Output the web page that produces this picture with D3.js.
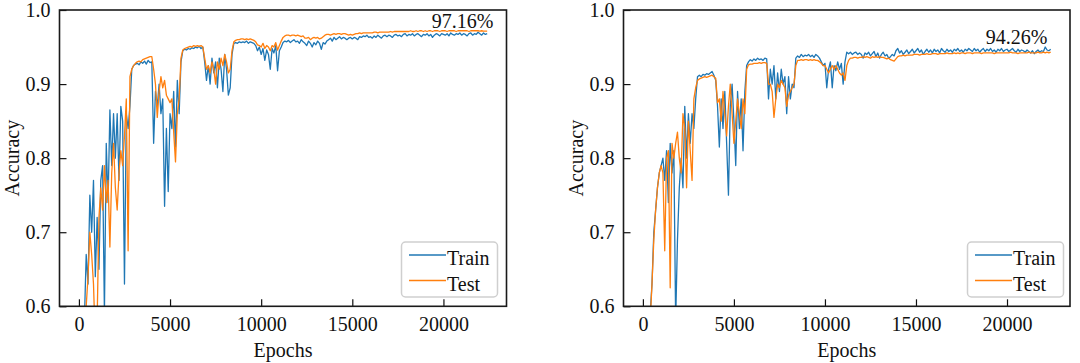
<!DOCTYPE html>
<html>
<head>
<meta charset="utf-8">
<script src="https://cdn.jsdelivr.net/npm/d3@7/dist/d3.min.js"></script>
<style>
  html, body { margin: 0; padding: 0; background: #fff; }
  svg { display: block; }
  svg text { font-family: "Liberation Serif", "Tinos", "Times New Roman", "Nimbus Roman", "DejaVu Serif", serif !important; fill: #111; }
</style>
</head>
<body>
<svg id="chart" width="1080" height="363"></svg>
<script>
// ---------------- DATA ----------------
const epochStep = 100; // one sample every 100 epochs, starting at epoch 0
const xTicks = [0, 5000, 10000, 15000, 20000];
const yTicks = [0.6, 0.7, 0.8, 0.9, 1.0];
const seriesNames = ["Train", "Test"];
const finalLabels = ["97.16%", "94.26%"];

const trainA = [
  0.30, 0.42, 0.52, 0.58, 0.67, 0.63, 0.75, 0.70, 0.77, 0.64,
  0.72, 0.65, 0.77, 0.79, 0.59, 0.82, 0.74, 0.865, 0.79, 0.86,
  0.80, 0.86, 0.77, 0.87, 0.85, 0.63, 0.86, 0.84, 0.87, 0.92,
  0.925, 0.927, 0.928, 0.926, 0.93, 0.928, 0.931, 0.927, 0.932, 0.929,
  0.93, 0.82, 0.89, 0.87, 0.90, 0.86, 0.88, 0.735, 0.84, 0.755,
  0.86, 0.84, 0.89, 0.815, 0.905, 0.86, 0.93, 0.945, 0.947, 0.946,
  0.948, 0.947, 0.949, 0.948, 0.95, 0.949, 0.951, 0.948, 0.95, 0.93,
  0.905, 0.925, 0.90, 0.935, 0.915, 0.93, 0.895, 0.935, 0.92, 0.89,
  0.94, 0.92, 0.885, 0.895, 0.94, 0.955, 0.956, 0.955, 0.957, 0.956,
  0.957, 0.956, 0.958, 0.955, 0.957, 0.956, 0.955, 0.952, 0.945, 0.95,
  0.94, 0.948, 0.932, 0.946, 0.94, 0.92, 0.948, 0.942, 0.952, 0.918,
  0.945, 0.95, 0.956, 0.958, 0.957, 0.959, 0.956, 0.958, 0.96, 0.957,
  0.958, 0.955, 0.96, 0.957, 0.955, 0.952, 0.958, 0.955, 0.95, 0.956,
  0.953, 0.958, 0.955, 0.947, 0.956, 0.954, 0.958, 0.96, 0.962, 0.958,
  0.963, 0.96, 0.962, 0.964, 0.961, 0.963, 0.962, 0.96, 0.962, 0.963,
  0.961, 0.963, 0.962, 0.96, 0.964, 0.963, 0.965, 0.964, 0.966, 0.963,
  0.964, 0.962, 0.965, 0.963, 0.966, 0.964, 0.962, 0.965, 0.966, 0.964,
  0.966, 0.965, 0.963, 0.966, 0.967, 0.965, 0.966, 0.964, 0.967, 0.968,
  0.965, 0.967, 0.966, 0.968, 0.965, 0.967, 0.968, 0.966, 0.964, 0.967,
  0.966, 0.968, 0.965, 0.967, 0.963, 0.966, 0.968, 0.967, 0.965, 0.968,
  0.967, 0.966, 0.968, 0.965, 0.969, 0.967, 0.966, 0.968, 0.967, 0.969,
  0.966, 0.968, 0.967, 0.965, 0.968, 0.969, 0.966, 0.968, 0.967, 0.970,
  0.968, 0.966, 0.969, 0.967, 0.968
];
const testA = [
  0.20, 0.30, 0.42, 0.52, 0.60, 0.64, 0.70, 0.67, 0.63, 0.55,
  0.58, 0.72, 0.76, 0.73, 0.79, 0.74, 0.77, 0.68, 0.78, 0.82,
  0.76, 0.73, 0.78, 0.81, 0.79, 0.83, 0.88, 0.675, 0.91, 0.92,
  0.925, 0.928, 0.93, 0.931, 0.93, 0.933, 0.934, 0.935, 0.936, 0.937,
  0.937, 0.92, 0.90, 0.855, 0.89, 0.91, 0.895, 0.905, 0.885, 0.88,
  0.875, 0.88, 0.835, 0.795, 0.86, 0.88, 0.935, 0.946, 0.948, 0.949,
  0.95, 0.951, 0.95, 0.952, 0.951, 0.952, 0.951, 0.952, 0.95, 0.935,
  0.92, 0.925, 0.915, 0.93, 0.92, 0.90, 0.93, 0.92, 0.935, 0.925,
  0.94, 0.93, 0.915, 0.92, 0.945, 0.957, 0.959, 0.96, 0.96, 0.961,
  0.961, 0.96, 0.961, 0.96, 0.961, 0.96, 0.959, 0.957, 0.953, 0.952,
  0.95, 0.955, 0.948, 0.952, 0.95, 0.945, 0.952, 0.95, 0.956, 0.946,
  0.952, 0.958, 0.963, 0.965, 0.966, 0.966, 0.965, 0.966, 0.966, 0.965,
  0.966, 0.965, 0.964, 0.965, 0.962, 0.962, 0.963, 0.960, 0.962, 0.963,
  0.962, 0.963, 0.961, 0.962, 0.964, 0.966, 0.967, 0.967, 0.966, 0.967,
  0.968, 0.967, 0.968, 0.968, 0.967, 0.968, 0.968, 0.967, 0.966, 0.967,
  0.966, 0.967, 0.968, 0.968, 0.969, 0.968, 0.969, 0.969, 0.969, 0.969,
  0.969, 0.969, 0.970, 0.970, 0.969, 0.970, 0.970, 0.970, 0.970, 0.970,
  0.970, 0.971, 0.970, 0.971, 0.971, 0.971, 0.971, 0.971, 0.971, 0.971,
  0.971, 0.971, 0.972, 0.971, 0.971, 0.972, 0.971, 0.972, 0.972, 0.971,
  0.972, 0.971, 0.972, 0.972, 0.971, 0.972, 0.972, 0.972, 0.971, 0.972,
  0.972, 0.972, 0.971, 0.972, 0.972, 0.972, 0.972, 0.971, 0.972, 0.972,
  0.972, 0.972, 0.972, 0.972, 0.971, 0.972, 0.972, 0.972, 0.972, 0.972,
  0.9716, 0.972, 0.9716, 0.9716, 0.9716
];
const trainB = [
  0.30, 0.40, 0.48, 0.55, 0.59, 0.63, 0.70, 0.73, 0.76, 0.78,
  0.79, 0.80, 0.77, 0.81, 0.74, 0.82, 0.78, 0.81, 0.58, 0.69,
  0.76, 0.80, 0.76, 0.87, 0.80, 0.86, 0.82, 0.86, 0.84, 0.88,
  0.91, 0.912, 0.91, 0.913, 0.912, 0.914, 0.913, 0.915, 0.917, 0.912,
  0.905, 0.87, 0.815, 0.88, 0.84, 0.89, 0.82, 0.75, 0.87, 0.90,
  0.85, 0.79, 0.89, 0.84, 0.88, 0.81, 0.89, 0.925, 0.93, 0.933,
  0.931, 0.934, 0.932, 0.935, 0.933, 0.934, 0.932, 0.935, 0.934, 0.88,
  0.92, 0.90, 0.925, 0.88, 0.915, 0.89, 0.92, 0.90, 0.91, 0.86,
  0.91, 0.88, 0.90, 0.895, 0.935, 0.938, 0.936, 0.94, 0.937, 0.939,
  0.938, 0.94, 0.937, 0.939, 0.936, 0.94, 0.938, 0.935, 0.93, 0.925,
  0.928, 0.895, 0.92, 0.93, 0.895, 0.925, 0.918, 0.93, 0.92, 0.928,
  0.90, 0.93, 0.943, 0.941, 0.943, 0.94, 0.942, 0.943, 0.94, 0.942,
  0.94, 0.935, 0.942, 0.94, 0.943, 0.938, 0.941, 0.944, 0.937, 0.942,
  0.935, 0.94, 0.943, 0.938, 0.94, 0.935, 0.937, 0.94, 0.938, 0.945,
  0.948, 0.942, 0.945, 0.94, 0.943, 0.946, 0.941, 0.944, 0.947, 0.942,
  0.945, 0.948, 0.943, 0.946, 0.94, 0.944, 0.947, 0.943, 0.946, 0.942,
  0.947, 0.944, 0.946, 0.942, 0.948, 0.945, 0.943, 0.947, 0.944, 0.946,
  0.943, 0.947, 0.945, 0.948, 0.944, 0.946, 0.943, 0.947, 0.945, 0.948,
  0.946, 0.944, 0.948, 0.945, 0.947, 0.943, 0.946, 0.948, 0.944, 0.947,
  0.945, 0.948, 0.944, 0.946, 0.943, 0.947, 0.945, 0.948, 0.944, 0.946,
  0.947, 0.944, 0.946, 0.948, 0.945, 0.943, 0.947, 0.944, 0.946, 0.945,
  0.943, 0.946, 0.944, 0.942, 0.945, 0.941, 0.944, 0.946, 0.943, 0.945,
  0.944, 0.950, 0.946, 0.945, 0.947
];
const testB = [
  0.25, 0.35, 0.45, 0.52, 0.58, 0.63, 0.69, 0.73, 0.76, 0.78,
  0.79, 0.78, 0.675, 0.80, 0.81, 0.625, 0.82, 0.80, 0.82, 0.835,
  0.80, 0.78, 0.86, 0.84, 0.76, 0.85, 0.81, 0.77, 0.88, 0.895,
  0.905, 0.907, 0.908, 0.909, 0.91, 0.909, 0.91, 0.911, 0.912, 0.91,
  0.908, 0.875, 0.88, 0.85, 0.89, 0.86, 0.83, 0.87, 0.90, 0.86,
  0.82, 0.85, 0.88, 0.86, 0.84, 0.88, 0.86, 0.92, 0.926, 0.927,
  0.927, 0.928, 0.928, 0.928, 0.929, 0.928, 0.929, 0.929, 0.928, 0.90,
  0.90, 0.89, 0.855, 0.88, 0.90, 0.895, 0.905, 0.90, 0.895, 0.87,
  0.885, 0.89, 0.895, 0.90, 0.925, 0.932, 0.932, 0.933, 0.932, 0.933,
  0.933, 0.932, 0.933, 0.932, 0.933, 0.932, 0.932, 0.93, 0.928, 0.925,
  0.925, 0.92, 0.915, 0.92, 0.925, 0.92, 0.925, 0.92, 0.915, 0.912,
  0.915, 0.905, 0.925, 0.932, 0.935, 0.935, 0.936, 0.936, 0.935, 0.936,
  0.936, 0.937, 0.936, 0.937, 0.936, 0.935, 0.937, 0.936, 0.937, 0.936,
  0.937, 0.936, 0.936, 0.935, 0.934, 0.935, 0.933, 0.932, 0.931, 0.934,
  0.937, 0.938, 0.938, 0.939, 0.938, 0.939, 0.939, 0.939, 0.939, 0.94,
  0.94, 0.94, 0.939, 0.94, 0.94, 0.94, 0.941, 0.94, 0.94, 0.941,
  0.941, 0.941, 0.94, 0.941, 0.941, 0.941, 0.941, 0.942, 0.941, 0.941,
  0.941, 0.942, 0.941, 0.942, 0.941, 0.942, 0.942, 0.941, 0.942, 0.942,
  0.942, 0.941, 0.942, 0.942, 0.942, 0.942, 0.941, 0.942, 0.942, 0.942,
  0.942, 0.942, 0.942, 0.941, 0.942, 0.942, 0.942, 0.942, 0.942, 0.942,
  0.942, 0.942, 0.943, 0.942, 0.942, 0.942, 0.941, 0.942, 0.942, 0.942,
  0.942, 0.942, 0.943, 0.942, 0.942, 0.942, 0.942, 0.943, 0.942, 0.942,
  0.943, 0.942, 0.943, 0.942, 0.943
];

// ---------------- LAYOUT ----------------
const svg = d3.select("#chart");
const colors = { Train: "#1f77b4", Test: "#ff7f0e" };
const serif = "'Liberation Serif', 'Tinos', 'Times New Roman', 'Nimbus Roman', 'DejaVu Serif', serif";

const panels = [
  { id: "a", left: 59.5, right: 506.5, train: trainA, test: testA, label: finalLabels[0],
    labelX: 493.5, labelY: 28, legendX: 401.5 },
  { id: "b", left: 623.5, right: 1070, train: trainB, test: testB, label: finalLabels[1],
    labelX: 1047.5, labelY: 44, legendX: 967.5 }
];
const plotTop = 10, plotBottom = 306.3;

panels.forEach(p => {
  const x = d3.scaleLinear().domain([-1065, 23460]).range([p.left, p.right]);
  const y = d3.scaleLinear().domain([0.6, 1.0]).range([plotBottom, plotTop]);
  const g = svg.append("g").attr("font-family", serif);

  g.append("clipPath").attr("id", "clip-" + p.id)
    .append("rect").attr("x", p.left).attr("y", plotTop)
    .attr("width", p.right - p.left).attr("height", plotBottom - plotTop);

  const line = d3.line()
    .x((d, i) => x(i * epochStep))
    .y(d => y(d));

  const plot = g.append("g").attr("clip-path", `url(#clip-${p.id})`);
  plot.append("path").datum(p.train)
    .attr("d", line).attr("fill", "none")
    .attr("stroke", colors.Train).attr("stroke-width", 1.3).attr("stroke-linejoin", "round");
  plot.append("path").datum(p.test)
    .attr("d", line).attr("fill", "none")
    .attr("stroke", colors.Test).attr("stroke-width", 1.3).attr("stroke-linejoin", "round");

  // axes (ticks inward)
  const xAxis = d3.axisBottom(x).tickValues(xTicks).tickFormat(d3.format("d"))
    .tickSizeInner(-7).tickSizeOuter(0).tickPadding(11);
  const gx = g.append("g").attr("transform", `translate(0,${plotBottom})`).call(xAxis)
    .attr("font-family", serif).attr("font-size", 20);
  gx.select(".domain").remove();
  gx.selectAll("line").attr("stroke", "#111").attr("stroke-width", 1.2);
  gx.selectAll("text").attr("fill", "#111");

  const yAxis = d3.axisLeft(y).tickValues(yTicks).tickFormat(d3.format(".1f"))
    .tickSizeInner(-7).tickSizeOuter(0).tickPadding(9);
  const gy = g.append("g").attr("transform", `translate(${p.left},0)`).call(yAxis)
    .attr("font-family", serif).attr("font-size", 20);
  gy.select(".domain").remove();
  gy.selectAll("line").attr("stroke", "#111").attr("stroke-width", 1.2);
  gy.selectAll("text").attr("fill", "#111");

  // frame
  g.append("rect").attr("x", p.left).attr("y", plotTop)
    .attr("width", p.right - p.left).attr("height", plotBottom - plotTop)
    .attr("fill", "none").attr("stroke", "#1a1a1a").attr("stroke-width", 1.6);

  // axis labels
  g.append("text").attr("x", (p.left + p.right) / 2).attr("y", 357)
    .attr("text-anchor", "middle").attr("font-size", 20).text("Epochs");
  g.append("text")
    .attr("transform", `translate(${p.left - 41},${(plotTop + plotBottom) / 2}) rotate(-90)`)
    .attr("text-anchor", "middle").attr("font-size", 20).text("Accuracy");

  // final accuracy annotation
  g.append("text").attr("x", p.labelX).attr("y", p.labelY)
    .attr("text-anchor", "end").attr("font-size", 20).text(p.label);

  // legend
  const lg = g.append("g").attr("transform", `translate(${p.legendX},242)`);
  lg.append("rect").attr("width", 96).attr("height", 55).attr("rx", 4)
    .attr("fill", "#fff").attr("fill-opacity", 0.85)
    .attr("stroke", "#cfcfcf").attr("stroke-width", 1.5);
  seriesNames.forEach((name, i) => {
    const cy = 13 + i * 25.5;
    lg.append("line").attr("x1", 7.5).attr("x2", 44.5).attr("y1", cy).attr("y2", cy)
      .attr("stroke", colors[name]).attr("stroke-width", 1.3);
    lg.append("text").attr("x", 45.5).attr("y", cy + 10).attr("font-size", 20).text(name);
  });
});
</script>
</body>
</html>
